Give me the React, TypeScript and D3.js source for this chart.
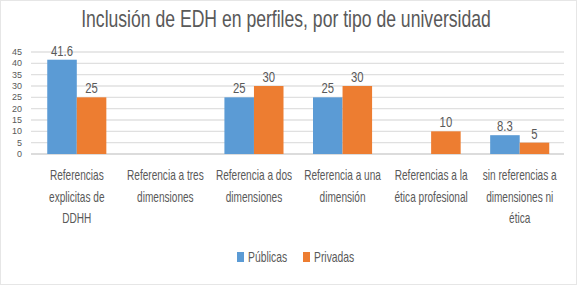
import React from "react";
import * as d3 from "d3";

const categories: string[][] = [
  ["Referencias", "explicitas de", "DDHH"],
  ["Referencia a tres", "dimensiones"],
  ["Referencia a dos", "dimensiones"],
  ["Referencia a una", "dimensión"],
  ["Referencias a la", "ética profesional"],
  ["sin referencias a", "dimensiones ni", "ética"],
];
const publicas: (number | null)[] = [41.6, null, 25, 25, null, 8.3];
const privadas: (number | null)[] = [25, null, 30, 30, 10, 5];
const yTicks: number[] = [0, 5, 10, 15, 20, 25, 30, 35, 40, 45];
const seriesNames = ["Públicas", "Privadas"];
const colors = ["#5B9BD5", "#ED7D31"];

const W = 578;
const H = 286;
const FONT = "'Liberation Sans', Arial, sans-serif";
const TXT = "#595959";
const SX = 0.74;

function T(props: {
  x: number;
  y: number;
  size: number;
  anchor?: "start" | "middle" | "end";
  baseline?: string;
  sx?: number;
  sy?: number;
  children: React.ReactNode;
}) {
  const { x, y, size, anchor = "start", baseline, sx = SX, sy = 1, children } = props;
  return (
    <text
      transform={`translate(${x} ${y}) scale(${sx} ${sy})`}
      textAnchor={anchor}
      dominantBaseline={baseline as any}
      fontFamily={FONT}
      fontSize={size}
      fill={TXT}
    >
      {children}
    </text>
  );
}

export default function App() {
  const x = d3
    .scaleBand<number>()
    .domain(categories.map((_, i) => i))
    .range([32.5, 564])
    .paddingInner(0.333)
    .paddingOuter(0.1665);
  const groupW = x.bandwidth();
  const xs = d3.scaleBand<number>().domain([0, 1]).range([0, groupW]);
  const y = d3.scaleLinear().domain([0, 45]).range([154, 52]);
  const series = [publicas, privadas];

  return (
    <svg width={W} height={H} style={{ position: "absolute", left: 0, top: 0, background: "#fff" }}>
      <rect x={0.5} y={0.5} width={576} height={284} fill="#fff" stroke="#e6e6e6" />
      <T x={286} y={27} size={23} anchor="middle" sx={0.765}>
        Inclusión de EDH en perfiles, por tipo de universidad
      </T>
      {yTicks.map((t) => (
        <g key={t}>
          <line x1={31} x2={564} y1={y(t)} y2={y(t)} stroke={t === 0 ? "#d0d0d0" : "#e0e0e0"} strokeWidth={1.3} />
          <T x={22} y={y(t)} size={12} anchor="end" baseline="central" sx={0.75} sy={0.8}>
            {t}
          </T>
        </g>
      ))}
      {series.map((vals, si) =>
        vals.map((v, ci) =>
          v == null ? null : (
            <g key={`${si}-${ci}`}>
              <rect
                x={(x(ci) as number) + (xs(si) as number)}
                y={y(v)}
                width={xs.bandwidth()}
                height={y(0) - y(v)}
                fill={colors[si]}
              />
              <T
                x={(x(ci) as number) + (xs(si) as number) + xs.bandwidth() / 2}
                y={y(v) - 4}
                size={14.5}
                anchor="middle"
                sx={0.78}
              >
                {v}
              </T>
            </g>
          )
        )
      )}
      {categories.map((lines, ci) =>
        lines.map((l, li) => (
          <T
            key={`${ci}-${li}`}
            x={(x(ci) as number) + groupW / 2}
            y={180 + li * 21.5}
            size={14}
            anchor="middle"
            sx={0.72}
          >
            {l}
          </T>
        ))
      )}
      {seriesNames.map((n, i) => {
        const lx = i === 0 ? 237 : 303;
        return (
          <g key={n}>
            <rect x={lx} y={252} width={7} height={10} fill={colors[i]} />
            <T x={lx + 11} y={262} size={14}>
              {n}
            </T>
          </g>
        );
      })}
    </svg>
  );
}
